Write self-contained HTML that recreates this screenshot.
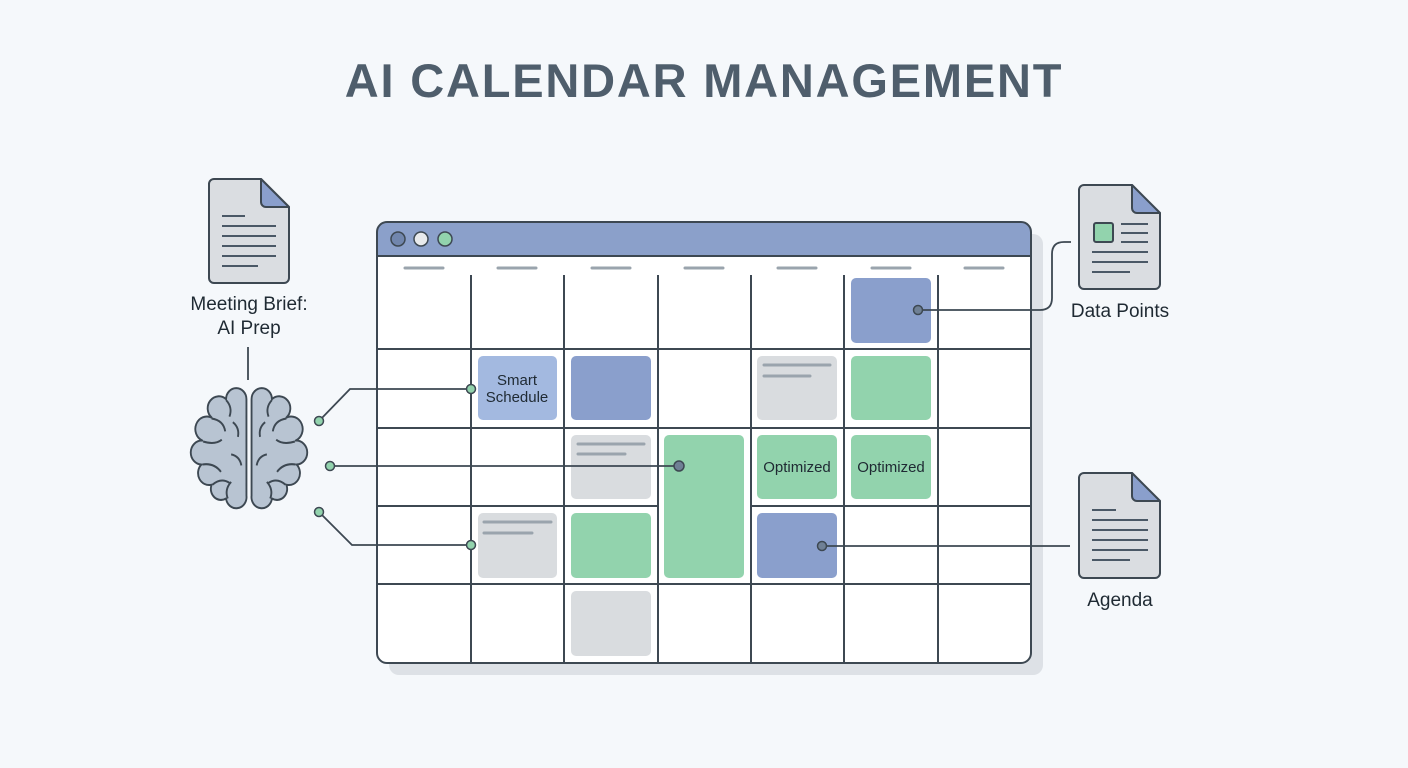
<!DOCTYPE html>
<html><head><meta charset="utf-8"><style>
html,body{margin:0;padding:0;background:#f4f7fa;}
svg{display:block;}
text{font-family:"Liberation Sans",sans-serif;}
</style></head><body>
<svg width="1408" height="768" viewBox="0 0 1408 768">
<rect width="1408" height="768" fill="#f5f8fb"/>
<text x="704" y="97" text-anchor="middle" font-size="47" font-weight="bold" fill="#4f5e6c" letter-spacing="1.8">AI CALENDAR MANAGEMENT</text>

<rect x="389" y="234" width="654" height="441" rx="10" fill="#dde1e6"/>
<rect x="377" y="222" width="654" height="441" rx="10" fill="#ffffff"/>
<path d="M377,256 V232 a10,10 0 0 1 10,-10 H1021 a10,10 0 0 1 10,10 V256 Z" fill="#8ba0ca"/>
<circle cx="398" cy="239" r="7" fill="#7186ad" stroke="#3d4852" stroke-width="1.5"/>
<circle cx="421" cy="239" r="7" fill="#e8eaec" stroke="#3d4852" stroke-width="1.5"/>
<circle cx="445" cy="239" r="7" fill="#92d3ad" stroke="#3d4852" stroke-width="1.5"/>
<g stroke="#9aa4ad" stroke-width="3" stroke-linecap="round">
<line x1="405" y1="268" x2="443" y2="268"/><line x1="498" y1="268" x2="536" y2="268"/>
<line x1="592" y1="268" x2="630" y2="268"/><line x1="685" y1="268" x2="723" y2="268"/>
<line x1="778" y1="268" x2="816" y2="268"/><line x1="872" y1="268" x2="910" y2="268"/>
<line x1="965" y1="268" x2="1003" y2="268"/>
</g>

<g>
<rect x="851" y="278" width="80" height="65" rx="5" fill="#8a9fcc"/>
<rect x="478" y="356" width="79" height="64" rx="5" fill="#a3b9e0"/>
<rect x="571" y="356" width="80" height="64" rx="5" fill="#8a9fcc"/>
<rect x="757" y="356" width="80" height="64" rx="5" fill="#d9dcdf"/>
<rect x="851" y="356" width="80" height="64" rx="5" fill="#92d3ad"/>
<rect x="571" y="435" width="80" height="64" rx="5" fill="#d9dcdf"/>
<rect x="664" y="435" width="80" height="143" rx="5" fill="#92d3ad"/>
<rect x="757" y="435" width="80" height="64" rx="5" fill="#92d3ad"/>
<rect x="851" y="435" width="80" height="64" rx="5" fill="#92d3ad"/>
<rect x="478" y="513" width="79" height="65" rx="5" fill="#d9dcdf"/>
<rect x="571" y="513" width="80" height="65" rx="5" fill="#92d3ad"/>
<rect x="757" y="513" width="80" height="65" rx="5" fill="#8a9fcc"/>
<rect x="571" y="591" width="80" height="65" rx="5" fill="#d9dcdf"/>
</g>
<g stroke="#9aa4ad" stroke-width="3" stroke-linecap="round">
<line x1="764" y1="365" x2="830" y2="365"/><line x1="764" y1="376" x2="810" y2="376"/>
<line x1="578" y1="444" x2="644" y2="444"/><line x1="578" y1="454" x2="625" y2="454"/>
<line x1="484" y1="522" x2="551" y2="522"/><line x1="484" y1="533" x2="532" y2="533"/>
</g>
<g font-size="15" fill="#1f2a33" text-anchor="middle">
<text x="517" y="385">Smart</text><text x="517" y="402">Schedule</text>
<text x="797" y="472">Optimized</text><text x="891" y="472">Optimized</text>
</g>

<g stroke="#3d4852" stroke-width="2" fill="none">
<line x1="471" y1="275" x2="471" y2="663"/><line x1="564" y1="275" x2="564" y2="663"/>
<line x1="658" y1="275" x2="658" y2="663"/><line x1="751" y1="275" x2="751" y2="663"/>
<line x1="844" y1="275" x2="844" y2="663"/><line x1="938" y1="275" x2="938" y2="663"/>
<line x1="377" y1="349" x2="1031" y2="349"/><line x1="377" y1="428" x2="1031" y2="428"/>
<line x1="377" y1="506" x2="658" y2="506"/><line x1="751" y1="506" x2="1031" y2="506"/>
<line x1="377" y1="584" x2="1031" y2="584"/>
<line x1="377" y1="256" x2="1031" y2="256"/>
<rect x="377" y="222" width="654" height="441" rx="10"/>
</g>

<g stroke="#3d4852" stroke-width="1.8" fill="none">
<path d="M319,421 L350,389 H471"/>
<path d="M330,466 H679"/>
<path d="M319,512 L352,545 H471"/>
<path d="M918,310 H1040 Q1052,310 1052,298 V254 Q1052,242 1064,242 H1071"/>
<path d="M822,546 H1070"/>
<line x1="248" y1="347" x2="248" y2="380"/>
</g>
<g stroke="#3d4852" stroke-width="1.5">
<circle cx="319" cy="421" r="4.5" fill="#92d3ad"/>
<circle cx="330" cy="466" r="4.5" fill="#92d3ad"/>
<circle cx="319" cy="512" r="4.5" fill="#92d3ad"/>
<circle cx="471" cy="389" r="4.5" fill="#92d3ad"/>
<circle cx="471" cy="545" r="4.5" fill="#92d3ad"/>
<circle cx="679" cy="466" r="5" fill="#6f8095"/>
<circle cx="918" cy="310" r="4.5" fill="#6f8095"/>
<circle cx="822" cy="546" r="4.5" fill="#6f8095"/>
</g>

<g transform="translate(249,447) scale(0.85,0.92) translate(-249,-447)">
<g id="hemi" fill="#b8c4d2" stroke="#3d4852" stroke-width="2.2" stroke-linejoin="round">
<path d="M246,395 V500 A12,12 0 0 1 222,503 A12,12 0 0 1 205,488 A13,13 0 0 1 193,466 A13,13 0 0 1 194,440 A13,13 0 0 1 205,415 A13,13 0 0 1 222,395 A12,12 0 0 1 246,395 Z"/>
<path d="M222,396 q8,8 4,18 M205,416 q14,2 16,14 M195,441 q14,4 22,-2 M194,466 q14,-2 22,8 M206,488 q10,-8 20,-2 M230,420 q8,6 6,16 M228,455 q10,2 12,12 M224,503 q-4,-10 4,-18" fill="none"/>
</g>
<use href="#hemi" transform="translate(498,0) scale(-1,1)"/>
</g>

<g stroke="#3d4852" stroke-width="2" stroke-linejoin="round">
<path d="M214,179 H261 L289,207 V278 a5,5 0 0 1 -5,5 H214 a5,5 0 0 1 -5,-5 V184 a5,5 0 0 1 5,-5 Z" fill="#dadde1"/>
<path d="M261,179 V202 a5,5 0 0 0 5,5 H289 Z" fill="#8a9fcc"/>
<path d="M1084,185 H1132 L1160,213 V284 a5,5 0 0 1 -5,5 H1084 a5,5 0 0 1 -5,-5 V190 a5,5 0 0 1 5,-5 Z" fill="#dadde1"/>
<path d="M1132,185 V208 a5,5 0 0 0 5,5 H1160 Z" fill="#8a9fcc"/>
<rect x="1094" y="223" width="19" height="19" rx="2" fill="#92d3ad"/>
<path d="M1084,473 H1132 L1160,501 V573 a5,5 0 0 1 -5,5 H1084 a5,5 0 0 1 -5,-5 V478 a5,5 0 0 1 5,-5 Z" fill="#dadde1"/>
<path d="M1132,473 V496 a5,5 0 0 0 5,5 H1160 Z" fill="#8a9fcc"/>
</g>
<g stroke="#4a5866" stroke-width="2">
<line x1="222" y1="216" x2="245" y2="216"/><line x1="222" y1="226" x2="276" y2="226"/>
<line x1="222" y1="236" x2="276" y2="236"/><line x1="222" y1="246" x2="276" y2="246"/>
<line x1="222" y1="256" x2="276" y2="256"/><line x1="222" y1="266" x2="258" y2="266"/>
<line x1="1121" y1="224" x2="1148" y2="224"/><line x1="1121" y1="233" x2="1148" y2="233"/>
<line x1="1121" y1="242" x2="1148" y2="242"/><line x1="1092" y1="252" x2="1148" y2="252"/>
<line x1="1092" y1="262" x2="1148" y2="262"/><line x1="1092" y1="272" x2="1130" y2="272"/>
<line x1="1092" y1="510" x2="1116" y2="510"/><line x1="1092" y1="520" x2="1148" y2="520"/>
<line x1="1092" y1="530" x2="1148" y2="530"/><line x1="1092" y1="540" x2="1148" y2="540"/>
<line x1="1092" y1="550" x2="1148" y2="550"/><line x1="1092" y1="560" x2="1130" y2="560"/>
</g>
<g font-size="19" fill="#1f2a33" text-anchor="middle">
<text x="249" y="310">Meeting Brief:</text>
<text x="249" y="334">AI Prep</text>
<text x="1120" y="317">Data Points</text>
<text x="1120" y="606">Agenda</text>
</g>
</svg>
</body></html>
